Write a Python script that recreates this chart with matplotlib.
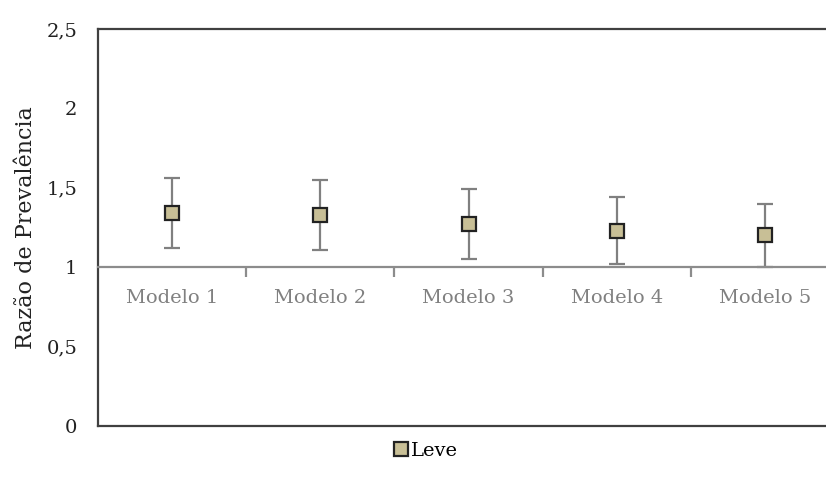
import matplotlib
matplotlib.use("Agg")
import matplotlib.pyplot as plt
import numpy as np

categories = ["Modelo 1", "Modelo 2", "Modelo 3", "Modelo 4", "Modelo 5"]
rp = [1.34, 1.33, 1.27, 1.23, 1.20]
ci_low = [1.12, 1.11, 1.05, 1.02, 1.00]
ci_high = [1.56, 1.55, 1.49, 1.44, 1.40]
yticks = [0, 0.5, 1, 1.5, 2, 2.5]
ytick_labels = ["0", "0,5", "1", "1,5", "2", "2,5"]
series_name = "Leve"

plt.rcParams['font.family'] = ['DejaVu Serif']

fig = plt.figure(figsize=(8.26, 4.87), dpi=100)
ax = fig.add_axes([98/826, (487-426)/487, 741/826, (426-29)/487])

x = np.arange(len(categories))
yerr = [np.array(rp) - np.array(ci_low), np.array(ci_high) - np.array(rp)]
ax.errorbar(x, rp, yerr=yerr, fmt='none', ecolor='#808080', elinewidth=1.6,
            capsize=6, capthick=1.6, zorder=2)
ax.plot(x, rp, linestyle='none', marker='s', markersize=10.5,
        markerfacecolor='#C8BF96', markeredgecolor='#222222', markeredgewidth=1.6,
        zorder=3, label=series_name)

ax.set_xlim(-0.5, len(categories) - 0.5)
ax.set_ylim(0, 2.5)
ax.set_yticks(yticks)
ax.set_yticklabels(ytick_labels, fontsize=14, color='#222222')
ax.tick_params(axis='y', length=0, pad=15)

ax.spines['bottom'].set_position(('data', 1))
ax.spines['bottom'].set_color('#8c8c8c')
ax.spines['bottom'].set_linewidth(1.6)
ax.spines['right'].set_visible(False)
for s in ['left', 'top']:
    ax.spines[s].set_color('#404040')
    ax.spines[s].set_linewidth(1.6)
ax.axhline(0, color='#404040', linewidth=1.6, clip_on=False, zorder=5)

ax.set_xticks(np.arange(len(categories) - 1) + 0.5)
ax.set_xticklabels([])
ax.set_xticks(x, minor=True)
ax.set_xticklabels(categories, minor=True, fontsize=14, color='#808080')
ax.tick_params(axis='x', which='major', length=7, width=1.6, color='#8c8c8c', direction='out')
ax.tick_params(axis='x', which='minor', length=0, pad=16)

ax.set_ylabel("Razão de Prevalência", fontsize=16, color='#222222', labelpad=7)

leg = fig.legend(loc='center', bbox_to_anchor=(424/826, 1 - 451/487), frameon=False,
                 fontsize=14, handletextpad=-0.1, handlelength=1.2, numpoints=1)
for h in leg.legend_handles:
    h.set_markersize(10)

fig.savefig("out.png", dpi=100)
